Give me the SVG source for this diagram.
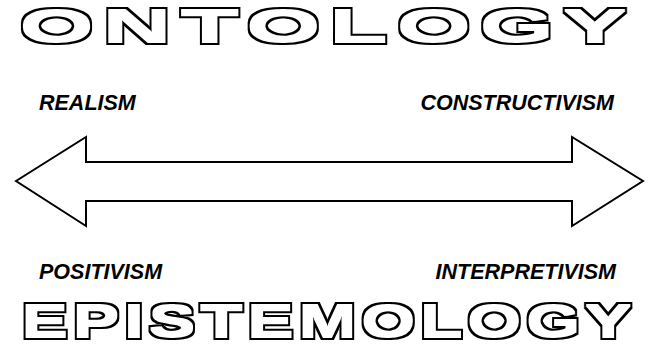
<svg xmlns="http://www.w3.org/2000/svg" width="649" height="350" viewBox="0 0 649 350">
  <defs>
    <filter id="outline" x="-5%" y="-40%" width="110%" height="180%" color-interpolation-filters="sRGB">
      <feMorphology in="SourceAlpha" operator="dilate" radius="1" result="bold"/>
      <feMorphology in="bold" operator="dilate" radius="2" result="outer"/>
      <feFlood flood-color="#000000" result="black"/>
      <feComposite in="black" in2="outer" operator="in" result="blackOuter"/>
      <feFlood flood-color="#ffffff" result="white"/>
      <feComposite in="white" in2="bold" operator="in" result="whiteInner"/>
      <feMerge>
        <feMergeNode in="blackOuter"/>
        <feMergeNode in="whiteInner"/>
      </feMerge>
    </filter>
  </defs>
  <style>
    .title { font-family: "Liberation Sans", Arial, sans-serif; font-weight: bold; font-size: 47px; fill: #000000; }
    .label { font-family: "Liberation Sans", Arial, sans-serif; font-weight: bold; font-style: italic; font-size: 21.5px; fill: #000000; }
    .arrow { fill: #ffffff; stroke: #000000; stroke-width: 2; stroke-linejoin: miter; }
  </style>
  <rect width="649" height="350" fill="#ffffff"/>
  <g id="ontology" filter="url(#outline)">
    <text class="title" letter-spacing="5" transform="translate(20,42) scale(2.0,1)">ONTOLOGY</text>
  </g>
  <g id="realism">
    <text class="label" x="39" y="110">REALISM</text>
  </g>
  <g id="constructivism">
    <text class="label" x="614" y="110" text-anchor="end">CONSTRUCTIVISM</text>
  </g>
  <g id="connectors">
    <path class="arrow" d="M16,181 L86,137 L86,162 L572,162 L572,137 L643,181 L572,226 L572,201 L86,201 L86,226 Z"/>
  </g>
  <g id="positivism">
    <text class="label" x="39" y="279">POSITIVISM</text>
  </g>
  <g id="interpretivism">
    <text class="label" x="616" y="279" text-anchor="end">INTERPRETIVISM</text>
  </g>
  <g id="epistemology" filter="url(#outline)">
    <text class="title" letter-spacing="4" transform="translate(22,337) scale(1.45,1)">EPISTEMOLOGY</text>
  </g>
</svg>
